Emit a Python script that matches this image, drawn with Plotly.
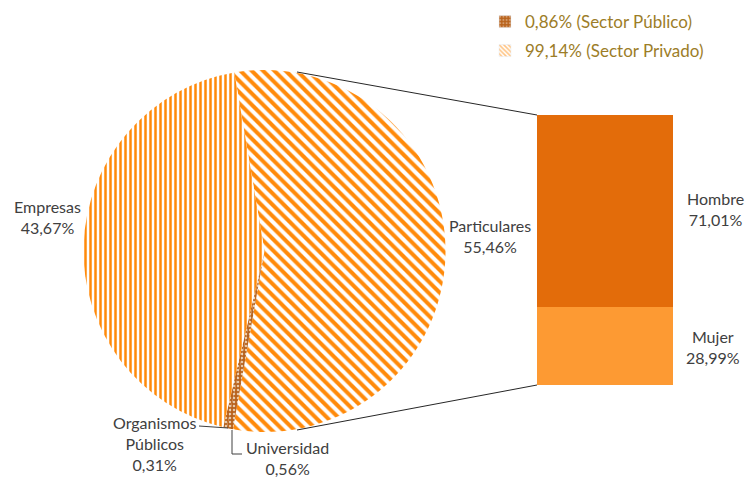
import plotly.graph_objects as go

# ---- data ----
pie_labels = ["Particulares", "Universidad", "Organismos Públicos", "Empresas"]
pie_values = [55.46, 0.56, 0.31, 43.67]
pie_text = ["Particulares<br>55,46%", "Universidad<br>0,56%",
            "Organismos<br>Públicos<br>0,31%", "Empresas<br>43,67%"]

bar_labels = ["Mujer", "Hombre"]
bar_values = [28.99, 71.01]
bar_text = ["Mujer<br>28,99%", "Hombre<br>71,01%"]

legend_names = ["0,86% (Sector Público)", "99,14% (Sector Privado)"]

# page body has an 8px margin, so the figure is drawn 8px in from the corner
OFF = 8
W, H = 754 - OFF, 478 - OFF
ORANGE = "#FF8A0A"
BROWN = "#B8621C"
TEXT = "#404040"
LEG_TEXT = "#9C7D28"
FONT = "Lato"


def px(x):
    return (x - OFF) / W


def py(y):
    return 1 - (y - OFF) / H


fig = go.Figure()

# pie (left)
fig.add_trace(go.Pie(
    labels=pie_labels,
    values=pie_values,
    sort=False,
    direction="clockwise",
    rotation=-9.6,
    textinfo="none",
    hoverinfo="label+percent",
    showlegend=False,
    domain=dict(x=[px(82), px(447)], y=[py(432), py(70)]),
    marker=dict(
        colors=[ORANGE, BROWN, BROWN, ORANGE],
        line=dict(width=0),
        pattern=dict(
            shape=["\\", ".", ".", "|"],
            fgcolor=[ORANGE, "#E8C9A8", "#E8C9A8", ORANGE],
            bgcolor=["white", BROWN, BROWN, "white"],
            size=[8, 4, 4, 5],
            solidity=[0.5, 0.3, 0.3, 0.5],
            fillmode="replace",
        ),
    ),
))

# stacked bar (right)
bar_colors = ["#FD9A33", "#E36C0A"]
for lab, val, col in zip(bar_labels, bar_values, bar_colors):
    fig.add_trace(go.Bar(
        x=[0], y=[val], name=lab, width=1,
        marker=dict(color=col, line=dict(width=0)),
        showlegend=False, xaxis="x", yaxis="y",
    ))

# legend-only traces
fig.add_trace(go.Bar(
    x=[None], y=[None], name=legend_names[0], legend="legend",
    marker=dict(color=BROWN, pattern=dict(shape=".", fgcolor="#F0D8C0",
                                          bgcolor=BROWN, size=4, solidity=0.35)),
    xaxis="x2", yaxis="y2",
))
fig.add_trace(go.Bar(
    x=[None], y=[None], name=legend_names[1], legend="legend2",
    marker=dict(color=ORANGE, pattern=dict(shape="\\", fgcolor=ORANGE,
                                           bgcolor="white", size=4, solidity=0.5)),
    xaxis="x2", yaxis="y2",
))

# data labels
label_pos = {
    "Empresas<br>43,67%": (47, 217),
    "Particulares<br>55,46%": (490, 236),
    "Organismos<br>Públicos<br>0,31%": (154, 443),
    "Universidad<br>0,56%": (287, 458),
    "Hombre<br>71,01%": (715, 209),
    "Mujer<br>28,99%": (713, 347),
}
annotations = []
for txt in pie_text + bar_text:
    x, y = label_pos[txt]
    annotations.append(dict(
        x=px(x), y=py(y), xref="paper", yref="paper", text=txt,
        showarrow=False, xanchor="center", yanchor="middle",
        font=dict(family=FONT, size=16, color=TEXT), align="center",
    ))

line_style = dict(color="#262626", width=1)
shapes = [
    dict(type="line", xref="paper", yref="paper", x0=px(297), y0=py(72),
         x1=px(537), y1=py(115), line=line_style),
    dict(type="line", xref="paper", yref="paper", x0=px(297), y0=py(430),
         x1=px(537), y1=py(385), line=line_style),
    # leader lines
    dict(type="line", xref="paper", yref="paper", x0=px(199), y0=py(426),
         x1=px(228), y1=py(428), line=dict(color=TEXT, width=1)),
    dict(type="path", xref="paper", yref="paper",
         path=f"M {px(232)} {py(430)} L {px(232)} {py(454)} L {px(242)} {py(454)}",
         line=dict(color=TEXT, width=1)),
]

fig.update_layout(
    width=W, height=H,
    margin=dict(l=0, r=0, t=0, b=0, autoexpand=False),
    paper_bgcolor="white", plot_bgcolor="white",
    barmode="stack", bargap=0,
    xaxis=dict(domain=[px(537), px(673)], range=[-0.5, 0.5], visible=False,
               fixedrange=True),
    yaxis=dict(domain=[py(385), py(115)], range=[0, 100], visible=False,
               fixedrange=True),
    xaxis2=dict(domain=[0, 0.01], visible=False, anchor="y2"),
    yaxis2=dict(domain=[0, 0.01], visible=False, anchor="x2"),
    legend=dict(x=px(485), y=py(4), xanchor="left", yanchor="top",
                bgcolor="rgba(0,0,0,0)",
                font=dict(family=FONT, size=17, color=LEG_TEXT)),
    legend2=dict(x=px(485), y=py(33), xanchor="left", yanchor="top",
                 bgcolor="rgba(0,0,0,0)",
                 font=dict(family=FONT, size=17, color=LEG_TEXT)),
    annotations=annotations,
    shapes=shapes,
)

fig.write_html("out.html")
